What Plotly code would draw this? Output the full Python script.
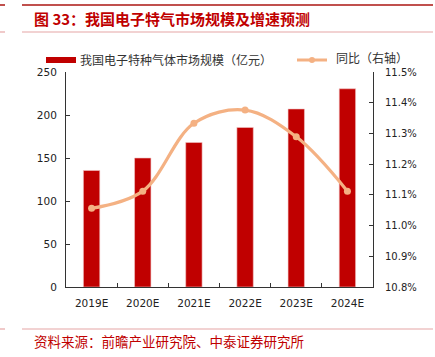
import plotly.graph_objects as go

categories = ["2019E", "2020E", "2021E", "2022E", "2023E", "2024E"]
market_size = [135.5, 150.0, 168.0, 185.5, 207.0, 230.5]
yoy_growth = [11.056, 11.112, 11.333, 11.376, 11.289, 11.112]
bar_name = "我国电子特种气体市场规模（亿元）"
line_name = "同比（右轴）"

W, H = 435, 357
L, R, T, B = 66, 62, 72, 70
PW, PH = W - L - R, H - T - B

def px(x):
    return (x - L) / PW

def py(y):
    return (H - B - y) / PH

RED = "#C00000"
ORANGE = "#F4B183"
CJK = "Noto Sans CJK SC"
NUM = "DejaVu Sans"

fig = go.Figure()
fig.add_trace(go.Bar(
    x=categories, y=market_size, name=bar_name,
    marker=dict(color=RED, line=dict(color="#F2C4C4", width=0.6)),
    width=0.32, yaxis="y", showlegend=False,
))
fig.add_trace(go.Scatter(
    x=categories, y=yoy_growth, name=line_name, mode="lines+markers",
    line=dict(color=ORANGE, width=3.2, shape="spline", smoothing=1.0),
    marker=dict(color=ORANGE, size=7),
    yaxis="y2", showlegend=False,
))

fig.update_layout(
    width=W, height=H,
    margin=dict(l=L, r=R, t=T, b=B, pad=0, autoexpand=False),
    paper_bgcolor="white", plot_bgcolor="white",
    showlegend=False,
    xaxis=dict(
        type="category", showline=True, linecolor="#333333", linewidth=1,
        ticks="inside", ticklen=4, tickcolor="#333333", tickson="boundaries",
        tickfont=dict(family=NUM, size=10.5, color="#222222"), ticklabelstandoff=6,
        showgrid=False, zeroline=False, automargin=False,
    ),
    yaxis=dict(
        range=[0, 250], dtick=50, showline=True, linecolor="#333333", linewidth=1,
        ticks="inside", ticklen=4, tickcolor="#333333",
        tickfont=dict(family=NUM, size=10.5, color="#222222"), ticklabelstandoff=6,
        showgrid=False, zeroline=False, automargin=False,
    ),
    yaxis2=dict(
        range=[10.8, 11.5], dtick=0.1, tickformat=".1f", ticksuffix="%",
        overlaying="y", side="right", showline=True, linecolor="#333333", linewidth=1,
        ticks="inside", ticklen=4, tickcolor="#333333",
        tickfont=dict(family=NUM, size=10, color="#222222"), ticklabelstandoff=9,
        showgrid=False, zeroline=False, automargin=False,
    ),
)

def hline(x0, x1, y, color, width):
    return dict(type="line", xref="paper", yref="paper", x0=px(x0), x1=px(x1), y0=py(y), y1=py(y),
                line=dict(color=color, width=width))

shapes = [
    hline(22, 433, 5, "#C0504D", 2),
    hline(0, 5, 5, "#C0504D", 2),
    hline(22, 433, 32, "#E6A6A6", 1.2),
    hline(0, 5, 32, "#E6A6A6", 1.2),
    hline(22, 433, 329, "#E6A6A6", 1.2),
    hline(0, 5, 329, "#E6A6A6", 1.2),
    # legend symbols
    dict(type="rect", xref="paper", yref="paper", x0=px(46), x1=px(76), y0=py(57), y1=py(63),
         fillcolor=RED, line=dict(width=0)),
    hline(297, 327, 60, ORANGE, 3),
    dict(type="circle", xref="paper", yref="paper", x0=px(309), x1=px(315), y0=py(57), y1=py(63),
         fillcolor=ORANGE, line=dict(width=0)),
]
fig.update_layout(shapes=shapes)

fig.add_annotation(text=bar_name, xref="paper", yref="paper",
                   x=px(78), y=py(59), xanchor="left", yanchor="middle", showarrow=False,
                   font=dict(family=CJK, size=12, color="#333333"))
fig.add_annotation(text=line_name, xref="paper", yref="paper",
                   x=px(334), y=py(58), xanchor="left", yanchor="middle", showarrow=False,
                   font=dict(family=CJK, size=12, color="#333333"))
fig.add_annotation(text="<b>图 33：我国电子特气市场规模及增速预测</b>", xref="paper", yref="paper",
                   x=px(32), y=py(18), xanchor="left", yanchor="middle", showarrow=False,
                   font=dict(family=CJK, size=15, color=RED))
fig.add_annotation(text="资料来源：前瞻产业研究院、中泰证券研究所", xref="paper", yref="paper",
                   x=px(32), y=py(341), xanchor="left", yanchor="middle", showarrow=False,
                   font=dict(family=CJK, size=13.5, color=RED))

fig.write_html("out.html", config={"displayModeBar": False},
               post_script="document.body.style.margin='0';document.body.style.overflow='hidden';")
